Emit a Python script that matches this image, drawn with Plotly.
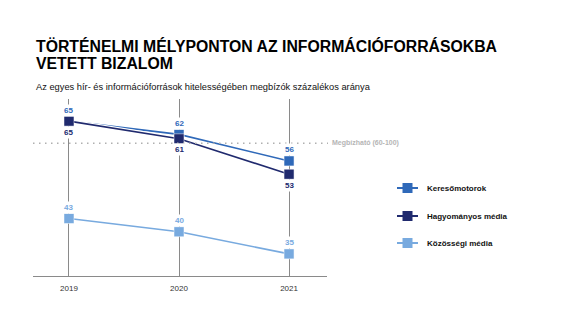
import plotly.graph_objects as go

# Data
years = [2019, 2020, 2021]
series_names = ["Keresőmotorok", "Hagyományos média", "Közösségi média"]
kereso = [65, 62, 56]
hagyomanyos = [65, 61, 53]
kozossegi = [43, 40, 35]
series_values = [kereso, hagyomanyos, kozossegi]
colors = ["#2f69b9", "#202a6e", "#78aadf"]
label_side = [1, -1, 1]  # +1 above the marker, -1 below
threshold = 60
threshold_label = "Megbízható (60-100)"

W, H = 580, 332
FONT = "Liberation Sans, Arial, sans-serif"

def px(x):
    return x / W

def py(y):
    return 1 - y / H

fig = go.Figure()

for name, vals, col, side in zip(series_names, series_values, colors, label_side):
    # white casing under each line
    fig.add_trace(go.Scatter(
        x=years, y=vals, mode="lines",
        line=dict(color="white", width=4),
        hoverinfo="skip", showlegend=False,
    ))
    fig.add_trace(go.Scatter(
        x=years, y=vals, mode="lines+markers", name=name,
        line=dict(color=col, width=1.6),
        marker=dict(symbol="square", size=10, color=col,
                    line=dict(color="white", width=0.5)),
        showlegend=False, cliponaxis=False,
    ))
    for yr, v in zip(years, vals):
        fig.add_annotation(
            x=yr, y=v, xref="x", yref="y", text=f"<b>{v}</b>",
            showarrow=False, yshift=11 * side,
            xanchor="center", yanchor="middle",
            bgcolor="white", borderpad=1,
            font=dict(family=FONT, size=8, color=col),
        )

# Custom legend drawn on a secondary axis pair
legend_y = [188, 216, 243]
for name, col, ly in zip(series_names, colors, legend_y):
    fig.add_trace(go.Scatter(
        x=[397, 418], y=[ly, ly], mode="lines",
        line=dict(color=col, width=2),
        xaxis="x2", yaxis="y2", showlegend=False, hoverinfo="skip",
    ))
    fig.add_trace(go.Scatter(
        x=[407.5], y=[ly], mode="markers",
        marker=dict(symbol="square", size=10, color=col),
        xaxis="x2", yaxis="y2", showlegend=False, hoverinfo="skip",
    ))
    fig.add_annotation(
        x=px(424.5), y=py(ly), xref="paper", yref="paper",
        text=f"<b>{name}</b>", showarrow=False, xanchor="left", yanchor="middle",
        font=dict(family=FONT, size=8, color="#111111"),
    )

# Threshold line
fig.add_shape(
    type="line", xref="paper", yref="y",
    x0=px(33), x1=px(328), y0=threshold, y1=threshold,
    line=dict(color="#b0b0b0", width=1.4, dash="1.5px,4.5px"),
)
fig.add_annotation(
    x=px(330), y=threshold, xref="paper", yref="y",
    text=f"<b>{threshold_label}</b>", showarrow=False, xanchor="left", yanchor="middle",
    font=dict(family=FONT, size=7, color="#b5b5b5"),
)

# Titles
fig.add_annotation(
    x=px(33.5), y=py(46.5), xref="paper", yref="paper",
    text="<b>TÖRTÉNELMI MÉLYPONTON AZ INFORMÁCIÓFORRÁSOKBA</b>",
    showarrow=False, xanchor="left", yanchor="middle",
    font=dict(family=FONT, size=15.8, color="#000000"),
)
fig.add_annotation(
    x=px(33.5), y=py(63), xref="paper", yref="paper",
    text="<b>VETETT BIZALOM</b>",
    showarrow=False, xanchor="left", yanchor="middle",
    font=dict(family=FONT, size=15.8, color="#000000"),
)
fig.add_annotation(
    x=px(33.5), y=py(87), xref="paper", yref="paper",
    text="Az egyes hír- és információforrások hitelességében megbízók százalékos aránya",
    showarrow=False, xanchor="left", yanchor="middle",
    font=dict(family=FONT, size=9.3, color="#111111"),
)

fig.update_layout(
    width=W, height=H,
    margin=dict(l=0, r=0, t=0, b=0),
    paper_bgcolor="white", plot_bgcolor="rgba(0,0,0,0)",
    xaxis=dict(
        domain=[px(33), px(327)], range=[2018.673, 2021.345],
        tickvals=years, ticktext=[str(y) for y in years],
        showgrid=True, gridcolor="#8a8a8a", gridwidth=1.3,
        showline=True, linecolor="#8a8a8a", linewidth=1.3,
        zeroline=False, ticks="", ticklabelstandoff=4,
        tickfont=dict(family=FONT, size=8, color="#333333"),
        fixedrange=True,
    ),
    yaxis=dict(
        domain=[py(276), py(99)], range=[30, 70],
        showgrid=False, zeroline=False, showline=False,
        showticklabels=False, fixedrange=True,
    ),
    xaxis2=dict(domain=[0, 1], range=[0, W], visible=False, anchor="y2"),
    yaxis2=dict(domain=[0, 1], range=[H, 0], visible=False, anchor="x2"),
)

fig.write_html("out.html")
